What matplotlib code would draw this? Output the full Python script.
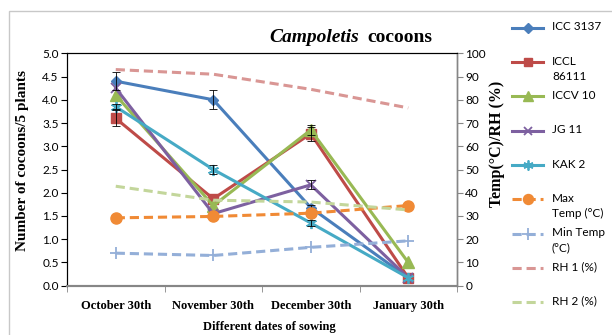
import matplotlib
matplotlib.use("Agg")
import matplotlib.pyplot as plt
from matplotlib.lines import Line2D
from matplotlib.patches import Rectangle
import numpy as np

# sowing dates
dates = ["October 30th", "November 30th", "December 30th", "January 30th"]

# cocoons per 5 plants for each chickpea genotype
icc_3137 = [4.40, 4.00, 1.68, 0.17]
iccl_86111 = [3.60, 1.87, 3.27, 0.17]
iccv_10 = [4.10, 1.72, 3.35, 0.50]
jg_11 = [4.25, 1.55, 2.17, 0.17]
kak_2 = [3.85, 2.50, 1.35, 0.17]

# standard errors
icc_3137_err = [0.20, 0.20, 0.05, 0.0]
iccl_86111_err = [0.17, 0.0, 0.15, 0.0]
iccv_10_err = [0.0, 0.0, 0.10, 0.0]
jg_11_err = [0.0, 0.0, 0.10, 0.0]
kak_2_err = [0.05, 0.10, 0.07, 0.0]

# weather (secondary axis)
max_temp = [29.2, 29.8, 31.2, 34.5]
min_temp = [14.0, 13.0, 16.5, 19.3]
rh_1 = [93.0, 91.0, 84.5, 76.5]
rh_2 = [42.8, 36.8, 36.0, 32.6]

W, H = 612, 335
SERIF = "Liberation Serif"
SANS = "Lato"

def fx(x):
    return x / W

def fy(y):
    return 1 - y / H

fig = plt.figure(figsize=(W / 100, H / 100), dpi=100)
fig.patch.set_facecolor("white")
fig.add_artist(Rectangle((fx(9), -0.1), 1.0, fy(11) + 0.1, transform=fig.transFigure,
                         fill=False, edgecolor="#c8c8c8", lw=1.0))

ax = fig.add_axes([fx(67), fy(285.7), fx(457) - fx(67), fy(53.3) - fy(285.7)])
ax2 = ax.twinx()
x = np.arange(len(dates))

cocoon_series = [
    ("ICC 3137", icc_3137, icc_3137_err, dict(color="#4a7ebb", marker="D", ms=5.5)),
    ("ICCL\n86111", iccl_86111, iccl_86111_err, dict(color="#be4b48", marker="s", ms=7)),
    ("ICCV 10", iccv_10, iccv_10_err, dict(color="#98b954", marker="^", ms=8)),
    ("JG 11", jg_11, jg_11_err, dict(color="#7d60a0", marker="x", ms=7, mew=1.3)),
    ("KAK 2", kak_2, kak_2_err, dict(color="#46aac5", marker=(6, 2, 0), ms=8, mew=1.3)),
]
dash = (0, (3, 1.6))
weather_series = [
    ("Max\nTemp (°C)", max_temp, dict(color="#f08a35", marker="o", ms=8, ls=dash)),
    ("Min Temp\n(°C)", min_temp, dict(color="#94afd8", marker="+", ms=9, mew=1.3, ls=dash)),
    ("RH 1 (%)", rh_1, dict(color="#d99694", ls=dash)),
    ("RH 2 (%)", rh_2, dict(color="#c3d69b", ls=dash)),
]

for label, vals, err, st in cocoon_series:
    ax.plot(x, vals, lw=2.2, **st)
    err = np.array(err)
    m = err > 0
    ax.errorbar(x[m], np.array(vals)[m], yerr=err[m], fmt="none", ecolor="black",
                elinewidth=0.6, capsize=3, capthick=0.6, zorder=5)

for label, vals, st in weather_series:
    ax2.plot(x, vals, lw=2.2, **st)

ax.set_xlim(-0.5, 3.5)
ax.set_ylim(0, 5)
ax.set_yticks(np.arange(0, 5.01, 0.5))
ax.set_yticklabels([f"{v:.1f}" for v in np.arange(0, 5.01, 0.5)], fontfamily=SANS, fontsize=8.5)
ax2.set_ylim(0, 100)
ax2.set_yticks(range(0, 101, 10))
ax2.set_yticklabels([str(v) for v in range(0, 101, 10)], fontfamily=SANS, fontsize=8.5)

ax.set_xticks(x)
ax.set_xticklabels(dates, fontfamily=SERIF, fontweight="bold", fontsize=9)
ax.set_xticks(np.arange(-0.5, 3.6, 1), minor=True)
ax.tick_params(axis="x", which="major", length=0, pad=10)
ax.tick_params(axis="x", which="minor", length=4, color="#868686")
ax.tick_params(axis="y", length=4, pad=2)
ax2.tick_params(axis="y", length=4, color="#868686", pad=2)

for a in (ax, ax2):
    a.spines["top"].set_color("black")
    a.spines["top"].set_linewidth(0.8)
    a.spines["left"].set_color("black")
    a.spines["left"].set_linewidth(0.8)
    a.spines["bottom"].set_color("#868686")
    a.spines["bottom"].set_linewidth(1.5)
    a.spines["right"].set_color("#868686")
    a.spines["right"].set_linewidth(1.0)

# axis titles
fig.text(fx(23), fy(160), "Number of cocoons/5 plants", rotation=90, ha="center", va="center",
         fontfamily=SERIF, fontweight="bold", fontsize=11)
fig.text(fx(497), fy(144), "Temp(°C)/RH (%)", rotation=90, ha="center", va="center",
         fontfamily=SERIF, fontweight="bold", fontsize=11.5)
fig.text(fx(269), fy(327), "Different dates of sowing", ha="center", va="center",
         fontfamily=SERIF, fontweight="bold", fontsize=9)

# chart title
fig.text(fx(359), fy(42), "Campoletis", ha="right", va="baseline", fontfamily=SERIF,
         fontweight="bold", fontstyle="italic", fontsize=14)
fig.text(fx(367), fy(42), "cocoons", ha="left", va="baseline", fontfamily=SERIF,
         fontweight="bold", fontsize=14)

# legend drawn entry by entry, handle level with the first text line
entries = [(lab, st) for lab, _, _, st in cocoon_series] + [(lab, st) for lab, _, st in weather_series]
for i, (lab, st) in enumerate(entries):
    y = 28 + i * 34.25
    st = dict(st)
    ls = st.pop("ls", "-")
    marker = st.pop("marker", None)
    ms = st.pop("ms", 6)
    mew = st.pop("mew", 1.0)
    fig.add_artist(Line2D([fx(512), fx(543)], [fy(y), fy(y)], transform=fig.transFigure,
                          lw=2.2, ls=ls, color=st["color"]))
    if marker is not None:
        fig.add_artist(Line2D([fx(527.5)], [fy(y)], transform=fig.transFigure, ls="none",
                              marker=marker, ms=ms * 0.9, mew=mew, color=st["color"]))
    fig.text(fx(552), fy(y - 6.5), lab, ha="left", va="top", fontfamily=SANS, fontsize=8.5,
             linespacing=1.5)

fig.savefig("out.png", dpi=100)
